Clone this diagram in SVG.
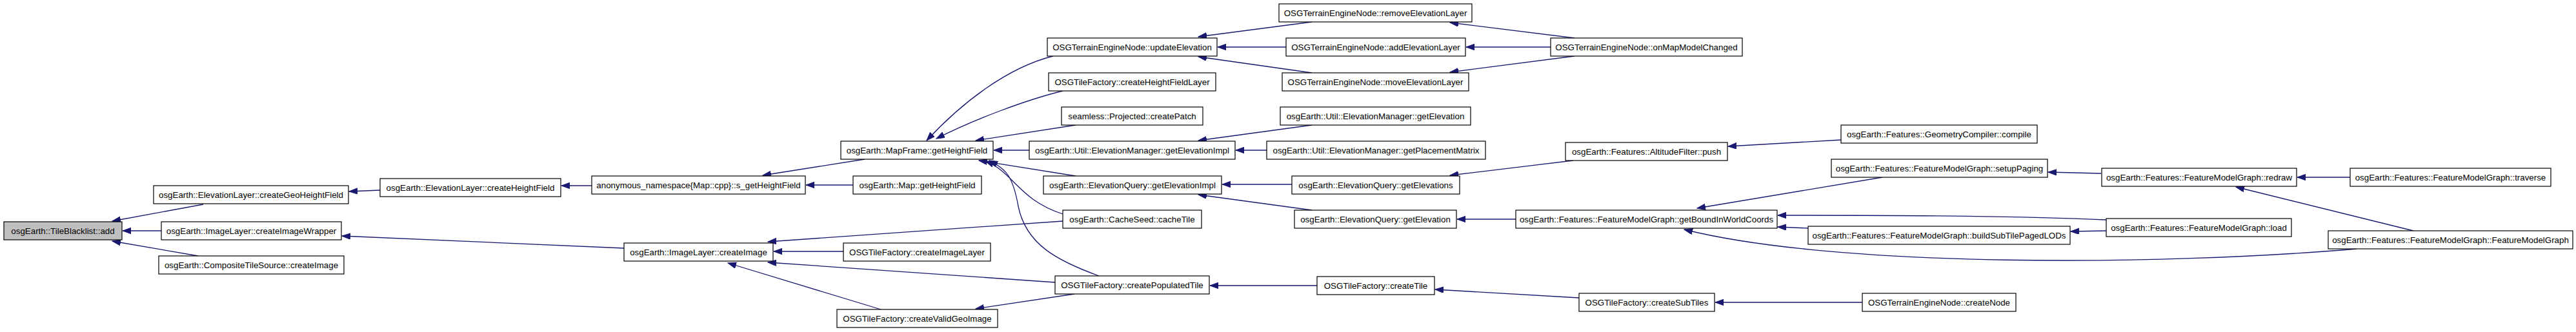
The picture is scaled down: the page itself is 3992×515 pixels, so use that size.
<svg xmlns="http://www.w3.org/2000/svg" width="3992" height="515" viewBox="0 0 3992 515">
<style>
.n rect{fill:#ffffff;stroke:#000000;stroke-width:1.2}
.n.root rect{fill:#bfbfbf}
.n text{font-family:"Liberation Sans",Arial,Helvetica,sans-serif;font-size:13.33px;fill:#000000;text-anchor:middle}
#edges path{fill:none;stroke:#191970;stroke-width:1.3;marker-end:url(#ah)}
</style>
<defs>
<marker id="ah" markerUnits="userSpaceOnUse" markerWidth="14" markerHeight="10" refX="13" refY="4.7" orient="auto" viewBox="0 0 14 10">
<path d="M0,0 L13,4.7 L0,9.4 z" fill="#191970" stroke="#191970" stroke-width="1"/>
</marker>
</defs>
<rect width="3992" height="515" fill="#ffffff"/>
<g id="edges">
<path d="M315,317 L174,343"/>
<path d="M250,358 L190,358"/>
<path d="M307,397 L174,374"/>
<path d="M589,295 L541,297"/>
<path d="M917,288 L870,288"/>
<path d="M1340,247 L1182,272"/>
<path d="M1322,287 L1249,287"/>
<path d="M967,385 L530,366"/>
<path d="M1647,343 L1190,375"/>
<path d="M1307,390 L1199,390"/>
<path d="M1635,438 L1190,407"/>
<path d="M1365,480 L1128,408"/>
<path d="M1665,456 L1512,479"/>
<path d="M1632,87 C1560,105 1490,160 1436,218"/>
<path d="M1647,141 C1590,155 1510,185 1451,215"/>
<path d="M1667,194 L1512,218"/>
<path d="M1595,233 L1540,233"/>
<path d="M1667,273 L1517,249"/>
<path d="M1647,332 C1578,310 1570,266 1527,250"/>
<path d="M1703,428 C1640,405 1590,380 1578,320 C1570,275 1560,262 1533,249"/>
<path d="M2033,34 L1857,57"/>
<path d="M1993,73 L1887,73"/>
<path d="M2033,113 L1857,88"/>
<path d="M2440,59 L2247,35"/>
<path d="M2403,73 L2272,73"/>
<path d="M2440,87 L2247,112"/>
<path d="M2033,194 L1857,218"/>
<path d="M1963,233 L1915,233"/>
<path d="M2002,286 L1894,286"/>
<path d="M2033,326 L1857,302"/>
<path d="M2438,249 L2247,272"/>
<path d="M2349,340 L2258,340"/>
<path d="M2853,217 L2678,227"/>
<path d="M2917,275 L2630,323"/>
<path d="M3264,341 C3100,334 2900,334 2755,334"/>
<path d="M2802,354 L2755,352"/>
<path d="M3264,358 L3209,359"/>
<path d="M3652,386 C3350,412 2850,416 2610,356"/>
<path d="M3256,269 L3174,267"/>
<path d="M3642,275 L3560,275"/>
<path d="M3740,358 L3465,290"/>
<path d="M2041,443 L1875,443"/>
<path d="M2447,462 L2224,449"/>
<path d="M2886,469 L2658,469"/>
</g>
<g id="n_add" class="n root"><rect x="6" y="344" width="183" height="28"/><text x="97.5" y="363">osgEarth::TileBlacklist::add</text></g>
<g id="n_createGeoHeightField" class="n"><rect x="238" y="288" width="302" height="28"/><text x="389" y="307">osgEarth::ElevationLayer::createGeoHeightField</text></g>
<g id="n_createImageWrapper" class="n"><rect x="250" y="344" width="279" height="28"/><text x="389.5" y="363">osgEarth::ImageLayer::createImageWrapper</text></g>
<g id="n_compositeCreateImage" class="n"><rect x="246" y="397" width="287" height="28"/><text x="389.5" y="416">osgEarth::CompositeTileSource::createImage</text></g>
<g id="n_createHeightField" class="n"><rect x="589" y="277" width="280" height="28"/><text x="729" y="296">osgEarth::ElevationLayer::createHeightField</text></g>
<g id="n_imageLayerCreateImage" class="n"><rect x="967" y="377" width="231" height="28"/><text x="1082.5" y="396">osgEarth::ImageLayer::createImage</text></g>
<g id="n_sGetHeightField" class="n"><rect x="917" y="273" width="331" height="28"/><text x="1082.5" y="292">anonymous_namespace{Map::cpp}::s_getHeightField</text></g>
<g id="n_mapFrameGetHeightField" class="n"><rect x="1303" y="219" width="236" height="28"/><text x="1421" y="238">osgEarth::MapFrame::getHeightField</text></g>
<g id="n_mapGetHeightField" class="n"><rect x="1322" y="273" width="199" height="28"/><text x="1421.5" y="292">osgEarth::Map::getHeightField</text></g>
<g id="n_createImageLayer" class="n"><rect x="1307" y="377" width="228" height="28"/><text x="1421" y="396">OSGTileFactory::createImageLayer</text></g>
<g id="n_createValidGeoImage" class="n"><rect x="1297" y="480" width="249" height="28"/><text x="1421.5" y="499">OSGTileFactory::createValidGeoImage</text></g>
<g id="n_updateElevation" class="n"><rect x="1623" y="59" width="263" height="28"/><text x="1754.5" y="78">OSGTerrainEngineNode::updateElevation</text></g>
<g id="n_createHeightFieldLayer" class="n"><rect x="1625" y="113" width="259" height="28"/><text x="1754.5" y="132">OSGTileFactory::createHeightFieldLayer</text></g>
<g id="n_createPatch" class="n"><rect x="1645" y="166" width="219" height="28"/><text x="1754.5" y="185">seamless::Projected::createPatch</text></g>
<g id="n_emGetElevationImpl" class="n"><rect x="1595" y="219" width="319" height="28"/><text x="1754.5" y="238">osgEarth::Util::ElevationManager::getElevationImpl</text></g>
<g id="n_eqGetElevationImpl" class="n"><rect x="1617" y="273" width="276" height="28"/><text x="1755" y="292">osgEarth::ElevationQuery::getElevationImpl</text></g>
<g id="n_cacheTile" class="n"><rect x="1647" y="326" width="215" height="28"/><text x="1754.5" y="345">osgEarth::CacheSeed::cacheTile</text></g>
<g id="n_createPopulatedTile" class="n"><rect x="1635" y="428" width="239" height="28"/><text x="1754.5" y="447">OSGTileFactory::createPopulatedTile</text></g>
<g id="n_removeElevationLayer" class="n"><rect x="1982" y="6" width="299" height="28"/><text x="2131.5" y="25">OSGTerrainEngineNode::removeElevationLayer</text></g>
<g id="n_addElevationLayer" class="n"><rect x="1993" y="59" width="278" height="28"/><text x="2132" y="78">OSGTerrainEngineNode::addElevationLayer</text></g>
<g id="n_moveElevationLayer" class="n"><rect x="1987" y="113" width="289" height="28"/><text x="2131.5" y="132">OSGTerrainEngineNode::moveElevationLayer</text></g>
<g id="n_emGetElevation" class="n"><rect x="1984" y="166" width="295" height="28"/><text x="2131.5" y="185">osgEarth::Util::ElevationManager::getElevation</text></g>
<g id="n_getPlacementMatrix" class="n"><rect x="1963" y="219" width="339" height="28"/><text x="2132.5" y="238">osgEarth::Util::ElevationManager::getPlacementMatrix</text></g>
<g id="n_eqGetElevations" class="n"><rect x="2002" y="273" width="260" height="28"/><text x="2132" y="292">osgEarth::ElevationQuery::getElevations</text></g>
<g id="n_eqGetElevation" class="n"><rect x="2006" y="326" width="251" height="28"/><text x="2131.5" y="345">osgEarth::ElevationQuery::getElevation</text></g>
<g id="n_createTile" class="n"><rect x="2041" y="429" width="182" height="28"/><text x="2132" y="448">OSGTileFactory::createTile</text></g>
<g id="n_onMapModelChanged" class="n"><rect x="2403" y="59" width="297" height="28"/><text x="2551.5" y="78">OSGTerrainEngineNode::onMapModelChanged</text></g>
<g id="n_altitudeFilterPush" class="n"><rect x="2426" y="221" width="251" height="28"/><text x="2551.5" y="240">osgEarth::Features::AltitudeFilter::push</text></g>
<g id="n_getBoundInWorldCoords" class="n"><rect x="2349" y="326" width="405" height="28"/><text x="2551.5" y="345">osgEarth::Features::FeatureModelGraph::getBoundInWorldCoords</text></g>
<g id="n_createSubTiles" class="n"><rect x="2447" y="455" width="210" height="28"/><text x="2552" y="474">OSGTileFactory::createSubTiles</text></g>
<g id="n_geometryCompilerCompile" class="n"><rect x="2853" y="194" width="304" height="28"/><text x="3005" y="213">osgEarth::Features::GeometryCompiler::compile</text></g>
<g id="n_setupPaging" class="n"><rect x="2838" y="247" width="335" height="28"/><text x="3005.5" y="266">osgEarth::Features::FeatureModelGraph::setupPaging</text></g>
<g id="n_buildSubTilePagedLODs" class="n"><rect x="2802" y="351" width="406" height="28"/><text x="3005" y="370">osgEarth::Features::FeatureModelGraph::buildSubTilePagedLODs</text></g>
<g id="n_createNode" class="n"><rect x="2886" y="455" width="238" height="28"/><text x="3005" y="474">OSGTerrainEngineNode::createNode</text></g>
<g id="n_redraw" class="n"><rect x="3257" y="261" width="302" height="28"/><text x="3408" y="280">osgEarth::Features::FeatureModelGraph::redraw</text></g>
<g id="n_load" class="n"><rect x="3264" y="339" width="287" height="28"/><text x="3407.5" y="358">osgEarth::Features::FeatureModelGraph::load</text></g>
<g id="n_traverse" class="n"><rect x="3642" y="261" width="311" height="28"/><text x="3797.5" y="280">osgEarth::Features::FeatureModelGraph::traverse</text></g>
<g id="n_featureModelGraphCtor" class="n"><rect x="3608" y="358" width="379" height="28"/><text x="3797.5" y="377">osgEarth::Features::FeatureModelGraph::FeatureModelGraph</text></g>
</svg>
